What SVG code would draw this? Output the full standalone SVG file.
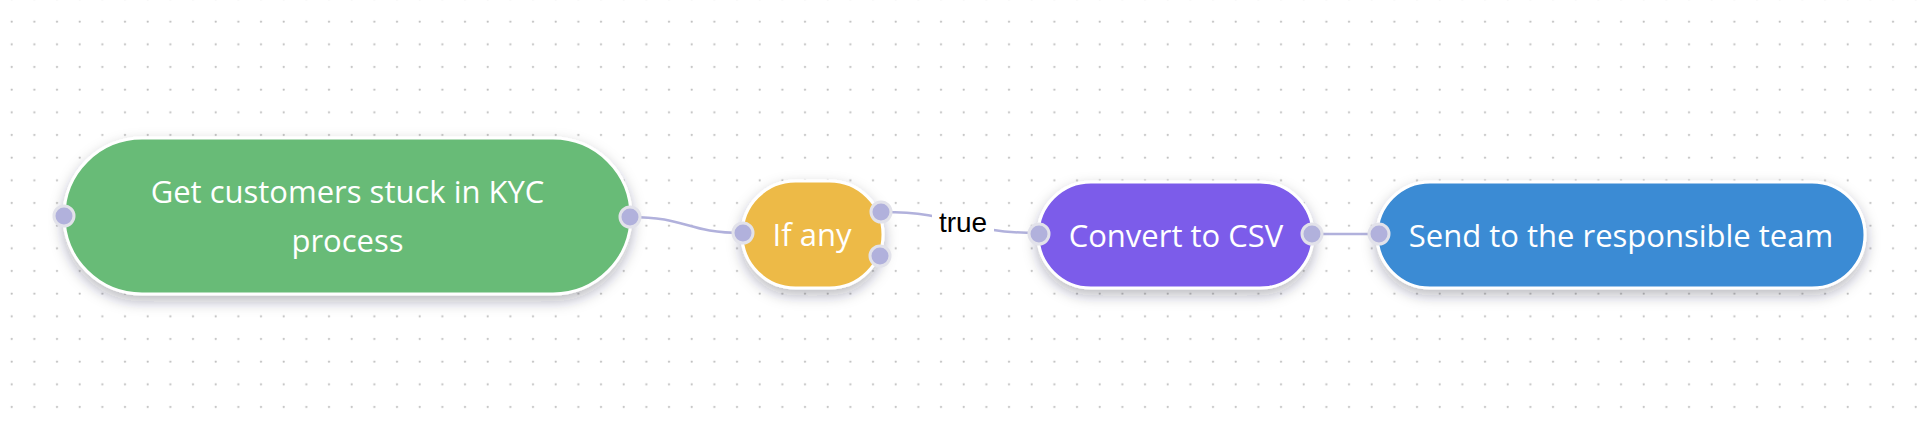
<svg xmlns="http://www.w3.org/2000/svg" width="1920" height="424" viewBox="0 0 1920 424">
<defs>
<pattern id="dots" patternUnits="userSpaceOnUse" x="0" y="10" width="22.667" height="22.667">
<circle cx="11.7" cy="11.7" r="1.1" fill="#bdbdbd"/>
</pattern>
<filter id="shadow" x="-20%" y="-40%" width="140%" height="200%">
<feDropShadow dx="0" dy="6" stdDeviation="7" flood-color="#1a1a3a" flood-opacity="0.3"/>
</filter>
<style>
.node{stroke:#ffffff;stroke-width:3;filter:url(#shadow);}
.lbl{font-family:"Open Sans","Noto Sans",sans-serif;font-size:31px;fill:#ffffff;text-anchor:middle;}
.port{fill:#b1b1dc;stroke:#e2e2ea;stroke-width:3;}
.edge{fill:none;stroke:#b1b1dc;stroke-width:2.5;}
.elbl{font-family:"Liberation Sans",Arial,sans-serif;font-size:28px;fill:#000000;text-anchor:middle;}
</style>
</defs>
<rect width="1920" height="424" fill="#ffffff"/>
<rect width="1920" height="424" fill="url(#dots)"/>
<g id="connectors">
<path class="edge" d="M630,217 C688,217 686,233 743,233"/>
<path class="edge" d="M882,212 C960,212 960,233 1038,233"/>
<rect x="932" y="205" width="62" height="30" fill="#ffffff"/>
<text class="elbl" x="963" y="232">true</text>
<path class="edge" d="M1312,234 L1379,234"/>
</g>
<g id="node-get-customers">
<rect class="node" x="64" y="138" width="567" height="156" rx="78" fill="#68bb77"/>
<text class="lbl" x="347.5" y="203">Get customers stuck in KYC</text>
<text class="lbl" x="347.5" y="252">process</text>
<circle class="port" cx="64" cy="216" r="10"/>
<circle class="port" cx="630" cy="217" r="10"/>
</g>
<g id="node-if-any">
<rect class="node" x="742" y="181" width="141" height="107" rx="53.5" fill="#edba46"/>
<text class="lbl" x="812" y="246">If any</text>
<circle class="port" cx="743" cy="233" r="10"/>
<circle class="port" cx="881" cy="212" r="10"/>
<circle class="port" cx="880" cy="256" r="10"/>
</g>
<g id="node-convert-csv">
<rect class="node" x="1038" y="182" width="275" height="106" rx="53" fill="#7b5cea"/>
<text class="lbl" x="1176" y="247">Convert to CSV</text>
<circle class="port" cx="1039" cy="234" r="10"/>
<circle class="port" cx="1312" cy="234" r="10"/>
</g>
<g id="node-send-team">
<rect class="node" x="1377" y="182" width="488" height="106" rx="53" fill="#3b8bd4"/>
<text class="lbl" x="1621" y="247">Send to the responsible team</text>
<circle class="port" cx="1379" cy="234" r="10"/>
</g>
</svg>
